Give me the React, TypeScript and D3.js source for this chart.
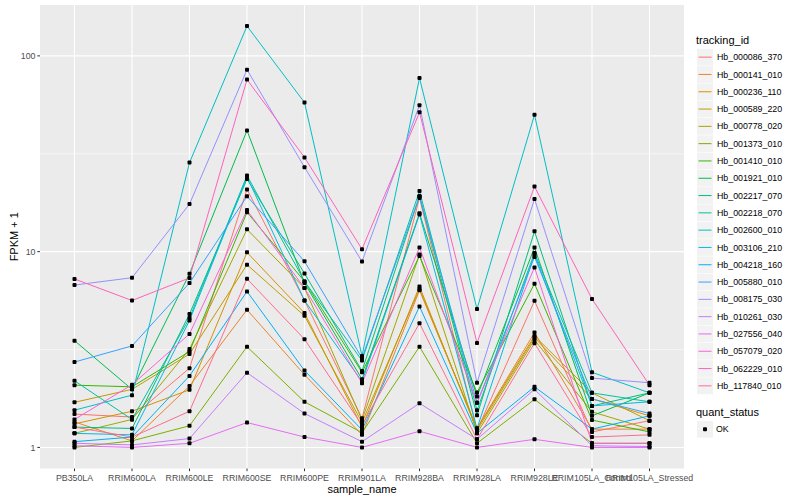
import React from "react";
import * as d3 from "d3";

// sample order along the x axis
const samples = [
  "PB350LA", "RRIM600LA", "RRIM600LE", "RRIM600SE", "RRIM600PE", "RRIM901LA",
  "RRIM928BA", "RRIM928LA", "RRIM928LE", "RRIM105LA_Control", "RRIM105LA_Stressed",
];

const trackingIds = [
  "Hb_000086_370", "Hb_000141_010", "Hb_000236_110", "Hb_000589_220", "Hb_000778_020",
  "Hb_001373_010", "Hb_001410_010", "Hb_001921_010", "Hb_002217_070", "Hb_002218_070",
  "Hb_002600_010", "Hb_003106_210", "Hb_004218_160", "Hb_005880_010", "Hb_008175_030",
  "Hb_010261_030", "Hb_027556_040", "Hb_057079_020", "Hb_062229_010", "Hb_117840_010",
];

// FPKM + 1, one array per gene
const hb000086 = [1.48, 1.43, 2.54, 20.8, 5.63, 1.41, 18.8, 1.22, 5.61, 1.2, 1.37];
const hb000141 = [1.35, 1.08, 2.06, 5.05, 2.35, 1.16, 6.35, 1.25, 3.86, 1.24, 1.24];
const hb000236 = [1.32, 1.53, 1.97, 9.92, 4.86, 1.27, 6.64, 1.22, 3.64, 1.77, 1.45];
const hb000589 = [1.7, 1.98, 3.0, 8.58, 4.7, 1.34, 6.45, 1.25, 3.71, 1.9, 1.37];
const hb000778 = [1.18, 1.39, 3.18, 13.0, 6.52, 1.38, 9.66, 1.18, 3.54, 1.52, 1.24];
const hb001373 = [1.0, 1.08, 1.29, 3.27, 1.71, 1.19, 3.27, 1.05, 1.76, 1.05, 1.05];
const hb001410 = [2.08, 2.04, 3.09, 15.9, 7.05, 2.42, 9.5, 1.91, 6.86, 1.38, 1.2];
const hb001921 = [3.51, 1.98, 7.71, 41.6, 6.91, 2.23, 15.7, 1.82, 10.5, 1.45, 1.9];
const hb002217 = [1.27, 1.25, 4.8, 23.5, 7.74, 2.46, 19.2, 1.46, 12.7, 1.63, 1.9];
const hb002218 = [2.19, 1.39, 4.58, 24.5, 7.05, 2.78, 20.4, 1.55, 9.85, 1.9, 1.71];
const hb002600 = [1.55, 1.85, 28.5, 142, 57.8, 2.93, 77, 5.1, 50, 2.42, 1.9];
const hb003106 = [1.18, 1.16, 4.45, 24.1, 5.63, 2.17, 15.5, 1.25, 9.66, 1.63, 1.71];
const hb004218 = [1.07, 1.13, 2.32, 6.26, 2.47, 1.23, 5.25, 1.18, 2.04, 1.24, 1.45];
const hb005880 = [2.73, 3.3, 6.92, 19.2, 8.92, 2.86, 19.2, 1.69, 9.4, 1.77, 1.49];
const hb008175 = [6.75, 7.36, 17.5, 85, 27, 8.9, 56, 2.14, 18.6, 2.26, 2.14];
const hb010261 = [1.05, 1.03, 1.11, 2.41, 1.49, 1.07, 1.68, 1.1, 1.98, 1.02, 1.01];
const hb027556 = [1.02, 1.0, 1.05, 1.34, 1.13, 1.0, 1.21, 1.0, 1.1, 1.0, 1.0];
const hb057079 = [1.39, 2.09, 3.8, 16.3, 6.52, 2.13, 10.5, 1.69, 8.31, 1.05, 1.05];
const hb062229 = [7.25, 5.63, 7.34, 75.7, 30.3, 10.3, 51.5, 3.42, 21.5, 5.73, 2.08];
const hb117840 = [1.27, 1.13, 1.53, 7.27, 3.57, 1.3, 4.31, 1.1, 3.41, 1.13, 1.16];

const seriesValues = [
  hb000086, hb000141, hb000236, hb000589, hb000778, hb001373, hb001410, hb001921,
  hb002217, hb002218, hb002600, hb003106, hb004218, hb005880, hb008175, hb010261,
  hb027556, hb057079, hb062229, hb117840,
];

const yTicks = [1, 10, 100];
const yMinor = [Math.sqrt(10), Math.sqrt(1000)];

// ggplot2 default hue palette for 20 levels
const hues = [
  "#F8766D", "#EA8331", "#D89000", "#C09B00", "#A3A500", "#7CAE00", "#39B600",
  "#00BB4E", "#00BF7D", "#00C1A3", "#00BFC4", "#00BAE0", "#00B0F6", "#35A2FF",
  "#9590FF", "#C77CFF", "#E76BF3", "#FA62DB", "#FF62BC", "#FF6C90",
];

const W = 800;
const H = 500;
const panel = { left: 40, right: 684, top: 5, bottom: 468.5 };
const font = "'Liberation Sans', Arial, Helvetica, sans-serif";

export default function App() {
  const x = d3.scalePoint<string>()
    .domain(samples)
    .range([panel.left, panel.right])
    .padding(0.6);

  const allVals = seriesValues.flat();
  const lo = Math.log10(d3.min(allVals) || 1);
  const hi = Math.log10(d3.max(allVals) || 100);
  const pad = (hi - lo) * 0.05;
  const y = d3.scaleLog()
    .domain([Math.pow(10, lo - pad), Math.pow(10, hi + pad)])
    .range([panel.bottom, panel.top]);

  const line = d3.line<number>()
    .x((_, i) => x(samples[i]) as number)
    .y(d => y(d));

  const legendX = 697;
  const legendTop = 48.5;
  const keyH = 17.3;

  return (
    <svg width={W} height={H} style={{ position: "absolute", left: 0, top: 0, background: "#fff" }}
      fontFamily={font}>
      <rect x={panel.left} y={panel.top} width={panel.right - panel.left}
        height={panel.bottom - panel.top} fill="#EBEBEB" />

      {/* grid */}
      {yMinor.map(v => (
        <line key={"mn" + v} x1={panel.left} x2={panel.right} y1={y(v)} y2={y(v)}
          stroke="#fff" strokeWidth={0.55} />
      ))}
      {yTicks.map(v => (
        <line key={"mj" + v} x1={panel.left} x2={panel.right} y1={y(v)} y2={y(v)}
          stroke="#fff" strokeWidth={1.1} />
      ))}
      {samples.map(s => (
        <line key={"vx" + s} x1={x(s)} x2={x(s)} y1={panel.top} y2={panel.bottom}
          stroke="#fff" strokeWidth={1.1} />
      ))}

      {/* lines */}
      {seriesValues.map((vals, i) => (
        <path key={trackingIds[i]} d={line(vals) || ""} fill="none"
          stroke={hues[i]} strokeWidth={1} />
      ))}

      {/* points */}
      {seriesValues.map((vals, i) =>
        vals.map((v, j) => (
          <rect key={trackingIds[i] + j} x={(x(samples[j]) as number) - 2} y={y(v) - 2}
            width={4} height={4} rx={1} fill="#000" />
        ))
      )}

      {/* y axis */}
      {yTicks.map(v => (
        <g key={"yt" + v}>
          <line x1={panel.left - 2.7} x2={panel.left} y1={y(v)} y2={y(v)} stroke="#333" strokeWidth={1} />
          <text x={panel.left - 4.5} y={y(v)} dy="0.35em" textAnchor="end" fontSize={8.8} fill="#4D4D4D">
            {v}
          </text>
        </g>
      ))}
      <text transform={`translate(14,${(panel.top + panel.bottom) / 2}) rotate(-90)`}
        textAnchor="middle" dy="0.35em" fontSize={11} fill="#000">FPKM + 1</text>

      {/* x axis */}
      {samples.map(s => (
        <g key={"xt" + s}>
          <line x1={x(s)} x2={x(s)} y1={panel.bottom} y2={panel.bottom + 2.7} stroke="#333" strokeWidth={1} />
          <text x={x(s)} y={477.5} dy="0.35em" textAnchor="middle" fontSize={8.8} fill="#4D4D4D">
            {s}
          </text>
        </g>
      ))}
      <text x={(panel.left + panel.right) / 2} y={489} dy="0.35em" textAnchor="middle"
        fontSize={11} fill="#000">sample_name</text>

      {/* legend: tracking_id */}
      <text x={legendX - 1} y={40} dy="0.35em" fontSize={11} fill="#000">tracking_id</text>
      {trackingIds.map((id, i) => {
        const cy = legendTop + i * keyH + keyH / 2;
        return (
          <g key={"lg" + id}>
            <rect x={legendX} y={cy - keyH / 2 + 0.3} width={16} height={keyH - 0.6} fill="#F2F2F2" />
            <line x1={legendX + 1.5} x2={legendX + 14.5} y1={cy} y2={cy} stroke={hues[i]} strokeWidth={1} />
            <text x={legendX + 20} y={cy} dy="0.35em" fontSize={8.8} fill="#000">{id}</text>
          </g>
        );
      })}

      {/* legend: quant_status */}
      <text x={legendX - 1} y={412.5} dy="0.35em" fontSize={11} fill="#000">quant_status</text>
      <rect x={legendX} y={421} width={16} height={16.7} fill="#F2F2F2" />
      <rect x={legendX + 6} y={427.3} width={4} height={4} rx={1} fill="#000" />
      <text x={legendX + 19} y={429.3} dy="0.35em" fontSize={8.8} fill="#000">OK</text>
    </svg>
  );
}
